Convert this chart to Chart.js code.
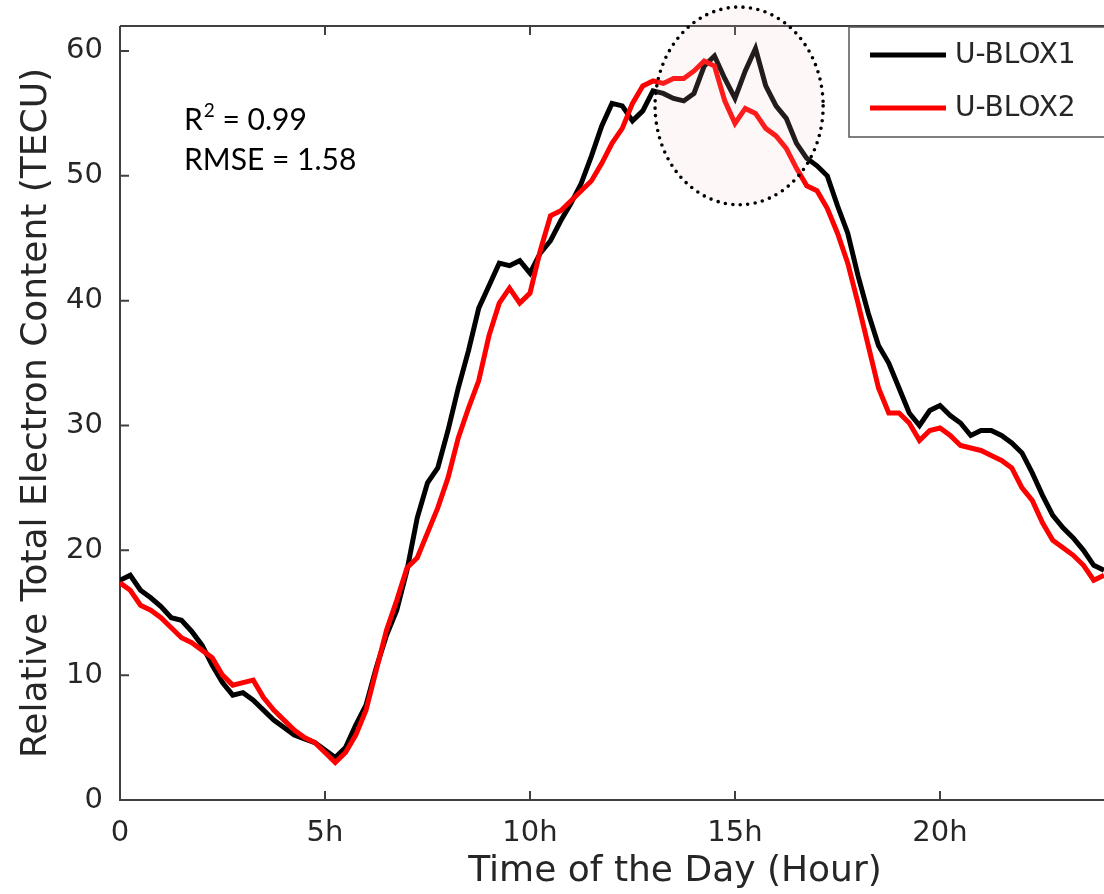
<!DOCTYPE html>
<html>
<head>
<meta charset="utf-8">
<script src="https://cdn.jsdelivr.net/npm/chart.js@4/dist/chart.umd.min.js"></script>
<style>
  html, body { margin: 0; padding: 0; background: #fff; overflow: hidden; }
  #wrap { width: 1104px; height: 894px; overflow: hidden; }
</style>
</head>
<body>
<div id="wrap"><canvas id="tec" width="1230" height="894"></canvas></div>
<script>
// hours of the day, one sample every 15 min
const hours = [];
for (let i = 0; i <= 96; i++) hours.push(i / 4);

const ublox1 = [
  17.6, 18.0, 16.8, 16.2, 15.5, 14.6, 14.4, 13.5, 12.4, 10.8, 9.4, 8.4, 8.6, 8.0, 7.2, 6.4,
  5.8, 5.2, 4.9, 4.6, 4.0, 3.4, 4.2, 6.0, 7.6, 10.6, 13.2, 15.2, 18.4, 22.6, 25.4, 26.6,
  29.6, 33.0, 36.0, 39.4, 41.2, 43.0, 42.8, 43.2, 42.2, 43.8, 44.8, 46.4, 47.8, 49.4, 51.6, 54.0,
  55.8, 55.6, 54.4, 55.2, 56.8, 56.6, 56.2, 56.0, 56.6, 58.8, 59.6, 57.8, 56.2, 58.4, 60.2, 57.2,
  55.6, 54.6, 52.6, 51.4, 50.8, 50.0, 47.6, 45.4, 42.0, 39.0, 36.4, 35.0, 33.0, 31.0, 30.0, 31.2,
  31.6, 30.8, 30.2, 29.2, 29.6, 29.6, 29.2, 28.6, 27.8, 26.2, 24.4, 22.8, 21.8, 21.0, 20.0, 18.8,
  18.4
];
const ublox2 = [
  17.4, 16.8, 15.6, 15.2, 14.6, 13.8, 13.0, 12.6, 12.0, 11.4, 10.0, 9.2, 9.4, 9.6, 8.2, 7.2,
  6.4, 5.6, 5.0, 4.6, 3.8, 3.0, 3.8, 5.2, 7.2, 10.4, 13.6, 16.0, 18.6, 19.4, 21.4, 23.4,
  25.8, 29.0, 31.4, 33.6, 37.2, 39.8, 41.0, 39.8, 40.6, 44.0, 46.8, 47.2, 48.0, 48.8, 49.6, 51.0,
  52.6, 53.8, 55.8, 57.2, 57.6, 57.4, 57.8, 57.8, 58.4, 59.2, 58.8, 56.0, 54.2, 55.4, 55.0, 53.8,
  53.2, 52.2, 50.6, 49.2, 48.8, 47.4, 45.4, 43.0, 39.8, 36.4, 33.0, 31.0, 31.0, 30.2, 28.8, 29.6,
  29.8, 29.2, 28.4, 28.2, 28.0, 27.6, 27.2, 26.6, 25.0, 24.0, 22.2, 20.8, 20.2, 19.6, 18.8, 17.6,
  18.0
];
const xTicks = [0, 5, 10, 15, 20];
const yTicks = [0, 10, 20, 30, 40, 50, 60];
const seriesNames = ["U-BLOX1", "U-BLOX2"];
const seriesColors = ["#000000", "#ff0000"];
const statLines = ["R", " = 0.99", "RMSE = 1.58"];
// highlighted region (hour, TECU)
const zone = { x: 15.1, y: 55.6, rx: 2.05, ry: 7.92 };

const AXIS = "#404040";
const TXT = "#262626";

const pts = (ys) => ys.map((v, i) => ({ x: hours[i], y: v }));

const framePlugin = {
  id: "frame",
  beforeDatasetsDraw(chart) {
    const { ctx, chartArea: a, scales } = chart;
    ctx.save();
    ctx.strokeStyle = AXIS;
    ctx.lineWidth = 2;
    ctx.beginPath();
    ctx.moveTo(a.left, a.top); ctx.lineTo(a.left, a.bottom); ctx.lineTo(a.right, a.bottom);
    ctx.moveTo(a.left, a.top); ctx.lineTo(a.right, a.top);
    xTicks.forEach((t) => {
      const px = scales.x.getPixelForValue(t);
      ctx.moveTo(px, a.bottom); ctx.lineTo(px, a.bottom - 9);
      ctx.moveTo(px, a.top); ctx.lineTo(px, a.top + 9);
    });
    yTicks.forEach((t) => {
      const py = scales.y.getPixelForValue(t);
      ctx.moveTo(a.left, py); ctx.lineTo(a.left + 9, py);
    });
    ctx.stroke();
    ctx.restore();
  },
  afterDatasetsDraw(chart) {
    const { ctx, chartArea: a, scales } = chart;
    const cx = scales.x.getPixelForValue(zone.x), cy = scales.y.getPixelForValue(zone.y);
    const rx = scales.x.getPixelForValue(zone.x + zone.rx) - cx;
    const ry = cy - scales.y.getPixelForValue(zone.y + zone.ry);
    ctx.save();
    ctx.beginPath();
    ctx.ellipse(cx, cy, rx, ry, 0, 0, Math.PI * 2);
    ctx.fillStyle = "rgba(240,200,200,0.14)";
    ctx.fill();
    ctx.setLineDash([0, 7.5]);
    ctx.lineCap = "round";
    ctx.lineWidth = 3.6;
    ctx.strokeStyle = "#000";
    ctx.stroke();
    ctx.restore();

    // legend box
    ctx.save();
    const lx = a.left + 729, ly = a.top + 1;
    ctx.fillStyle = "#fff";
    ctx.fillRect(lx, ly, 400, 110);
    ctx.strokeStyle = "#555";
    ctx.lineWidth = 1.5;
    ctx.strokeRect(lx, ly, 400, 110);
    ctx.font = "28px 'DejaVu Sans'";
    ctx.textBaseline = "middle";
    ctx.fillStyle = TXT;
    chart.data.datasets.forEach((ds, i) => {
      const yy = ly + 28 + i * 53;
      ctx.strokeStyle = ds.borderColor;
      ctx.lineWidth = 5;
      ctx.beginPath(); ctx.moveTo(lx + 21, yy); ctx.lineTo(lx + 97, yy); ctx.stroke();
      ctx.fillText(ds.label, lx + 106, yy + 1);
    });
    ctx.restore();

    // statistics
    ctx.save();
    ctx.fillStyle = "#000";
    ctx.textBaseline = "alphabetic";
    ctx.font = "30px Lato";
    const sx = a.left + 64;
    ctx.fillText(statLines[0], sx, a.top + 104);
    const rw = ctx.measureText(statLines[0]).width;
    ctx.font = "19px Lato";
    ctx.fillText("2", sx + rw + 1, a.top + 91);
    const sw = ctx.measureText("2").width;
    ctx.font = "30px Lato";
    ctx.fillText(statLines[1], sx + rw + sw + 1, a.top + 104);
    ctx.fillText(statLines[2], sx, a.top + 144);
    ctx.restore();
  }
};

new Chart(document.getElementById("tec"), {
  type: "line",
  data: {
    datasets: [
      { label: seriesNames[0], data: pts(ublox1), borderColor: seriesColors[0], borderWidth: 5, pointRadius: 0, tension: 0, order: 2 },
      { label: seriesNames[1], data: pts(ublox2), borderColor: seriesColors[1], borderWidth: 5, pointRadius: 0, tension: 0, order: 1 },
    ],
  },
  options: {
    responsive: false,
    animation: false,
    layout: { padding: { top: 26, left: 0, right: 0, bottom: 0 } },
    plugins: { legend: { display: false }, tooltip: { enabled: false } },
    scales: {
      x: {
        type: "linear",
        min: 0,
        max: 1110 / 41,
        afterBuildTicks: (s) => { s.ticks = xTicks.map((v) => ({ value: v })); },
        afterFit: (s) => { s.height = 94; s.paddingLeft = 0; s.paddingRight = 0; },
        grid: { display: false, drawTicks: false },
        border: { display: false },
        ticks: {
          padding: 16,
          color: TXT,
          font: { family: "DejaVu Sans", size: 29 },
          callback: (v) => (v === 0 ? "0" : v + "h"),
        },
        title: {
          display: true,
          text: "Time of the Day (Hour)",
          color: TXT,
          font: { family: "DejaVu Sans", size: 36 },
          padding: { top: 0, bottom: 1 },
        },
      },
      y: {
        min: 0,
        max: 62,
        afterBuildTicks: (s) => { s.ticks = yTicks.map((v) => ({ value: v })); },
        afterFit: (s) => { s.width = 120; s.paddingTop = 0; s.paddingBottom = 0; },
        grid: { display: false, drawTicks: false },
        border: { display: false },
        ticks: { padding: 17, color: TXT, font: { family: "DejaVu Sans", size: 29 } },
        title: {
          display: true,
          text: "Relative Total Electron Content (TECU)",
          color: TXT,
          font: { family: "DejaVu Sans", size: 36 },
          padding: { top: 15, bottom: 0 },
        },
      },
    },
  },
  plugins: [framePlugin],
});
</script>
</body>
</html>
